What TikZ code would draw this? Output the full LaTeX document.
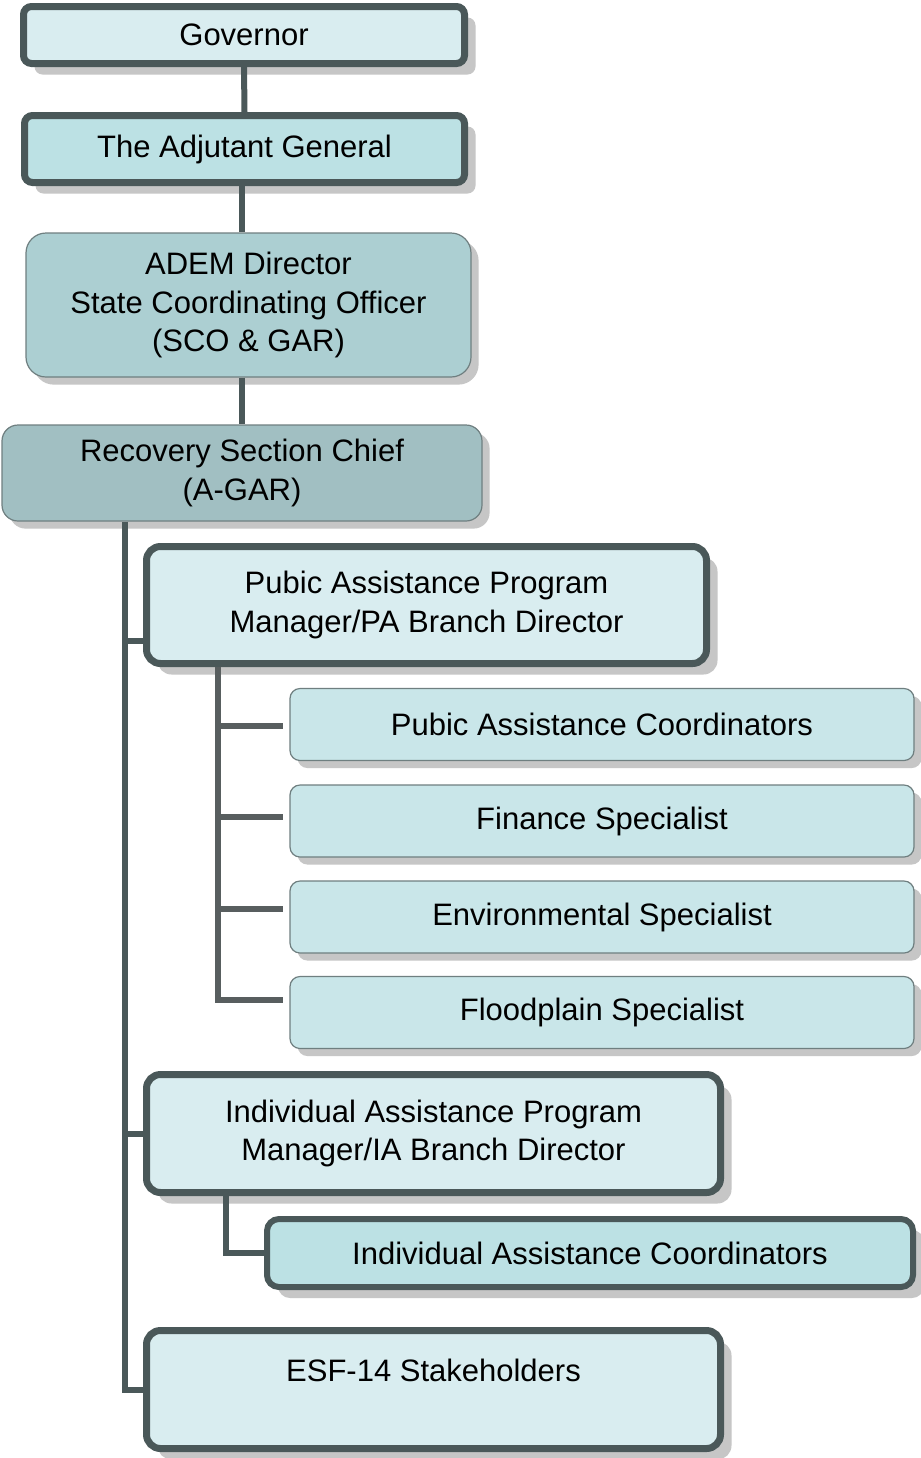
\documentclass[tikz,border=0pt]{standalone}
\usepackage{fontspec}
\setmainfont{Liberation Sans}
\usetikzlibrary{shadows}
\definecolor{edgec}{HTML}{4A5859}
\definecolor{connc}{HTML}{585E5F}
\definecolor{thinc}{HTML}{6F7F80}
\definecolor{shadowc}{HTML}{C6C6C6}
\definecolor{govc}{HTML}{D9EDF0}
\definecolor{adjc}{HTML}{BCE1E4}
\definecolor{ademc}{HTML}{ACCFD2}
\definecolor{recc}{HTML}{A1BFC2}
\definecolor{childc}{HTML}{C9E6E9}
\tikzset{
  thickbox/.style={draw=edgec, line width=3.5pt, rounded corners=4pt, align=center, inner sep=0pt,
    font=\fontsize{15.5}{19.25}\selectfont,
    drop shadow={shadow xshift=5.5pt, shadow yshift=-5.5pt, fill=shadowc, opacity=1}},
  thinbox/.style={draw=thinc, line width=0.6pt, rounded corners=5pt, align=center, inner sep=0pt,
    font=\fontsize{15.5}{19.25}\selectfont,
    drop shadow={shadow xshift=3.8pt, shadow yshift=-3.8pt, fill=shadowc, opacity=1}},
  conn/.style={draw=edgec, line width=3pt},
  conn2/.style={draw=connc, line width=2.7pt},
}
\begin{document}
\begin{tikzpicture}[x=0.5pt,y=-0.5pt]
\useasboundingbox (0,0) rectangle (921,1458);
\fill[white] (0,0) rectangle (921,1458);

\node[thickbox, fill=govc, minimum width=220.5pt, minimum height=28.5pt] (gov) at (244,35) {Governor};
\node[thickbox, fill=adjc, minimum width=220pt, minimum height=33.5pt] (adj) at (244.5,149) {The Adjutant General};
\node[thinbox, fill=ademc, rounded corners=10pt, minimum width=222.5pt, minimum height=72pt] (adem) at (248.5,305) {ADEM Director\\State Coordinating Officer\\(SCO \& GAR)};
\node[thinbox, fill=recc, rounded corners=8pt, minimum width=240pt, minimum height=48pt] (rec) at (242,473) {Recovery Section Chief\\(A-GAR)};
\node[thickbox, fill=govc, rounded corners=7pt, minimum width=280pt, minimum height=58.5pt] (pa) at (426.5,605) {Pubic Assistance Program\\Manager/PA Branch Director};
\node[thinbox, fill=childc, minimum width=312pt, minimum height=36pt] (c1) at (602,724.5) {Pubic Assistance Coordinators};
\node[thinbox, fill=childc, minimum width=312pt, minimum height=36pt] (c2) at (602,821) {Finance Specialist};
\node[thinbox, fill=childc, minimum width=312pt, minimum height=36pt] (c3) at (602,917) {Environmental Specialist};
\node[thinbox, fill=childc, minimum width=312pt, minimum height=36pt] (c4) at (602,1012.5) {Floodplain Specialist};
\node[thickbox, fill=govc, rounded corners=7pt, minimum width=287pt, minimum height=59pt] (ia) at (433.5,1133.5) {Individual Assistance Program\\Manager/IA Branch Director};
\node[thickbox, fill=adjc, line width=3pt, rounded corners=6pt, minimum width=323pt, minimum height=34pt] (iac) at (590,1253) {Individual Assistance Coordinators};
\node[thickbox, fill=govc, rounded corners=7pt, minimum width=287pt, minimum height=59pt] (esf) at (433.5,1389.5) {ESF-14 Stakeholders\\ \mbox{}};

\coordinate (x242) at (242,0);
\coordinate (sp) at (125,0);
\coordinate (sp2) at (218,0);
\coordinate (sp3) at (226,0);
\coordinate (pas) at (0,641);
\coordinate (k1) at (0,726);
\coordinate (k2) at (0,817);
\coordinate (k3) at (0,909);
\coordinate (k4) at (0,1000);

\draw[conn] (gov.south) -- (adj.north);
\draw[conn] (adj.south -| x242) -- (adem.north -| x242);
\draw[conn] (adem.south -| x242) -- (rec.north -| x242);
\draw[conn] (rec.south -| sp) |- (esf.west);
\draw[conn] (sp |- pas) -- (pas -| pa.west);
\draw[conn] (sp |- ia.west) -- (ia.west);

\draw[conn2] (pa.south -| sp2) |- ([xshift=-3pt]k4 -| c4.west);
\draw[conn2, shorten >=3pt] (sp2 |- k1) -- (k1 -| c1.west);
\draw[conn2, shorten >=3pt] (sp2 |- k2) -- (k2 -| c2.west);
\draw[conn2, shorten >=3pt] (sp2 |- k3) -- (k3 -| c3.west);

\draw[conn] (ia.south -| sp3) |- (iac.west);
\end{tikzpicture}
\end{document}
